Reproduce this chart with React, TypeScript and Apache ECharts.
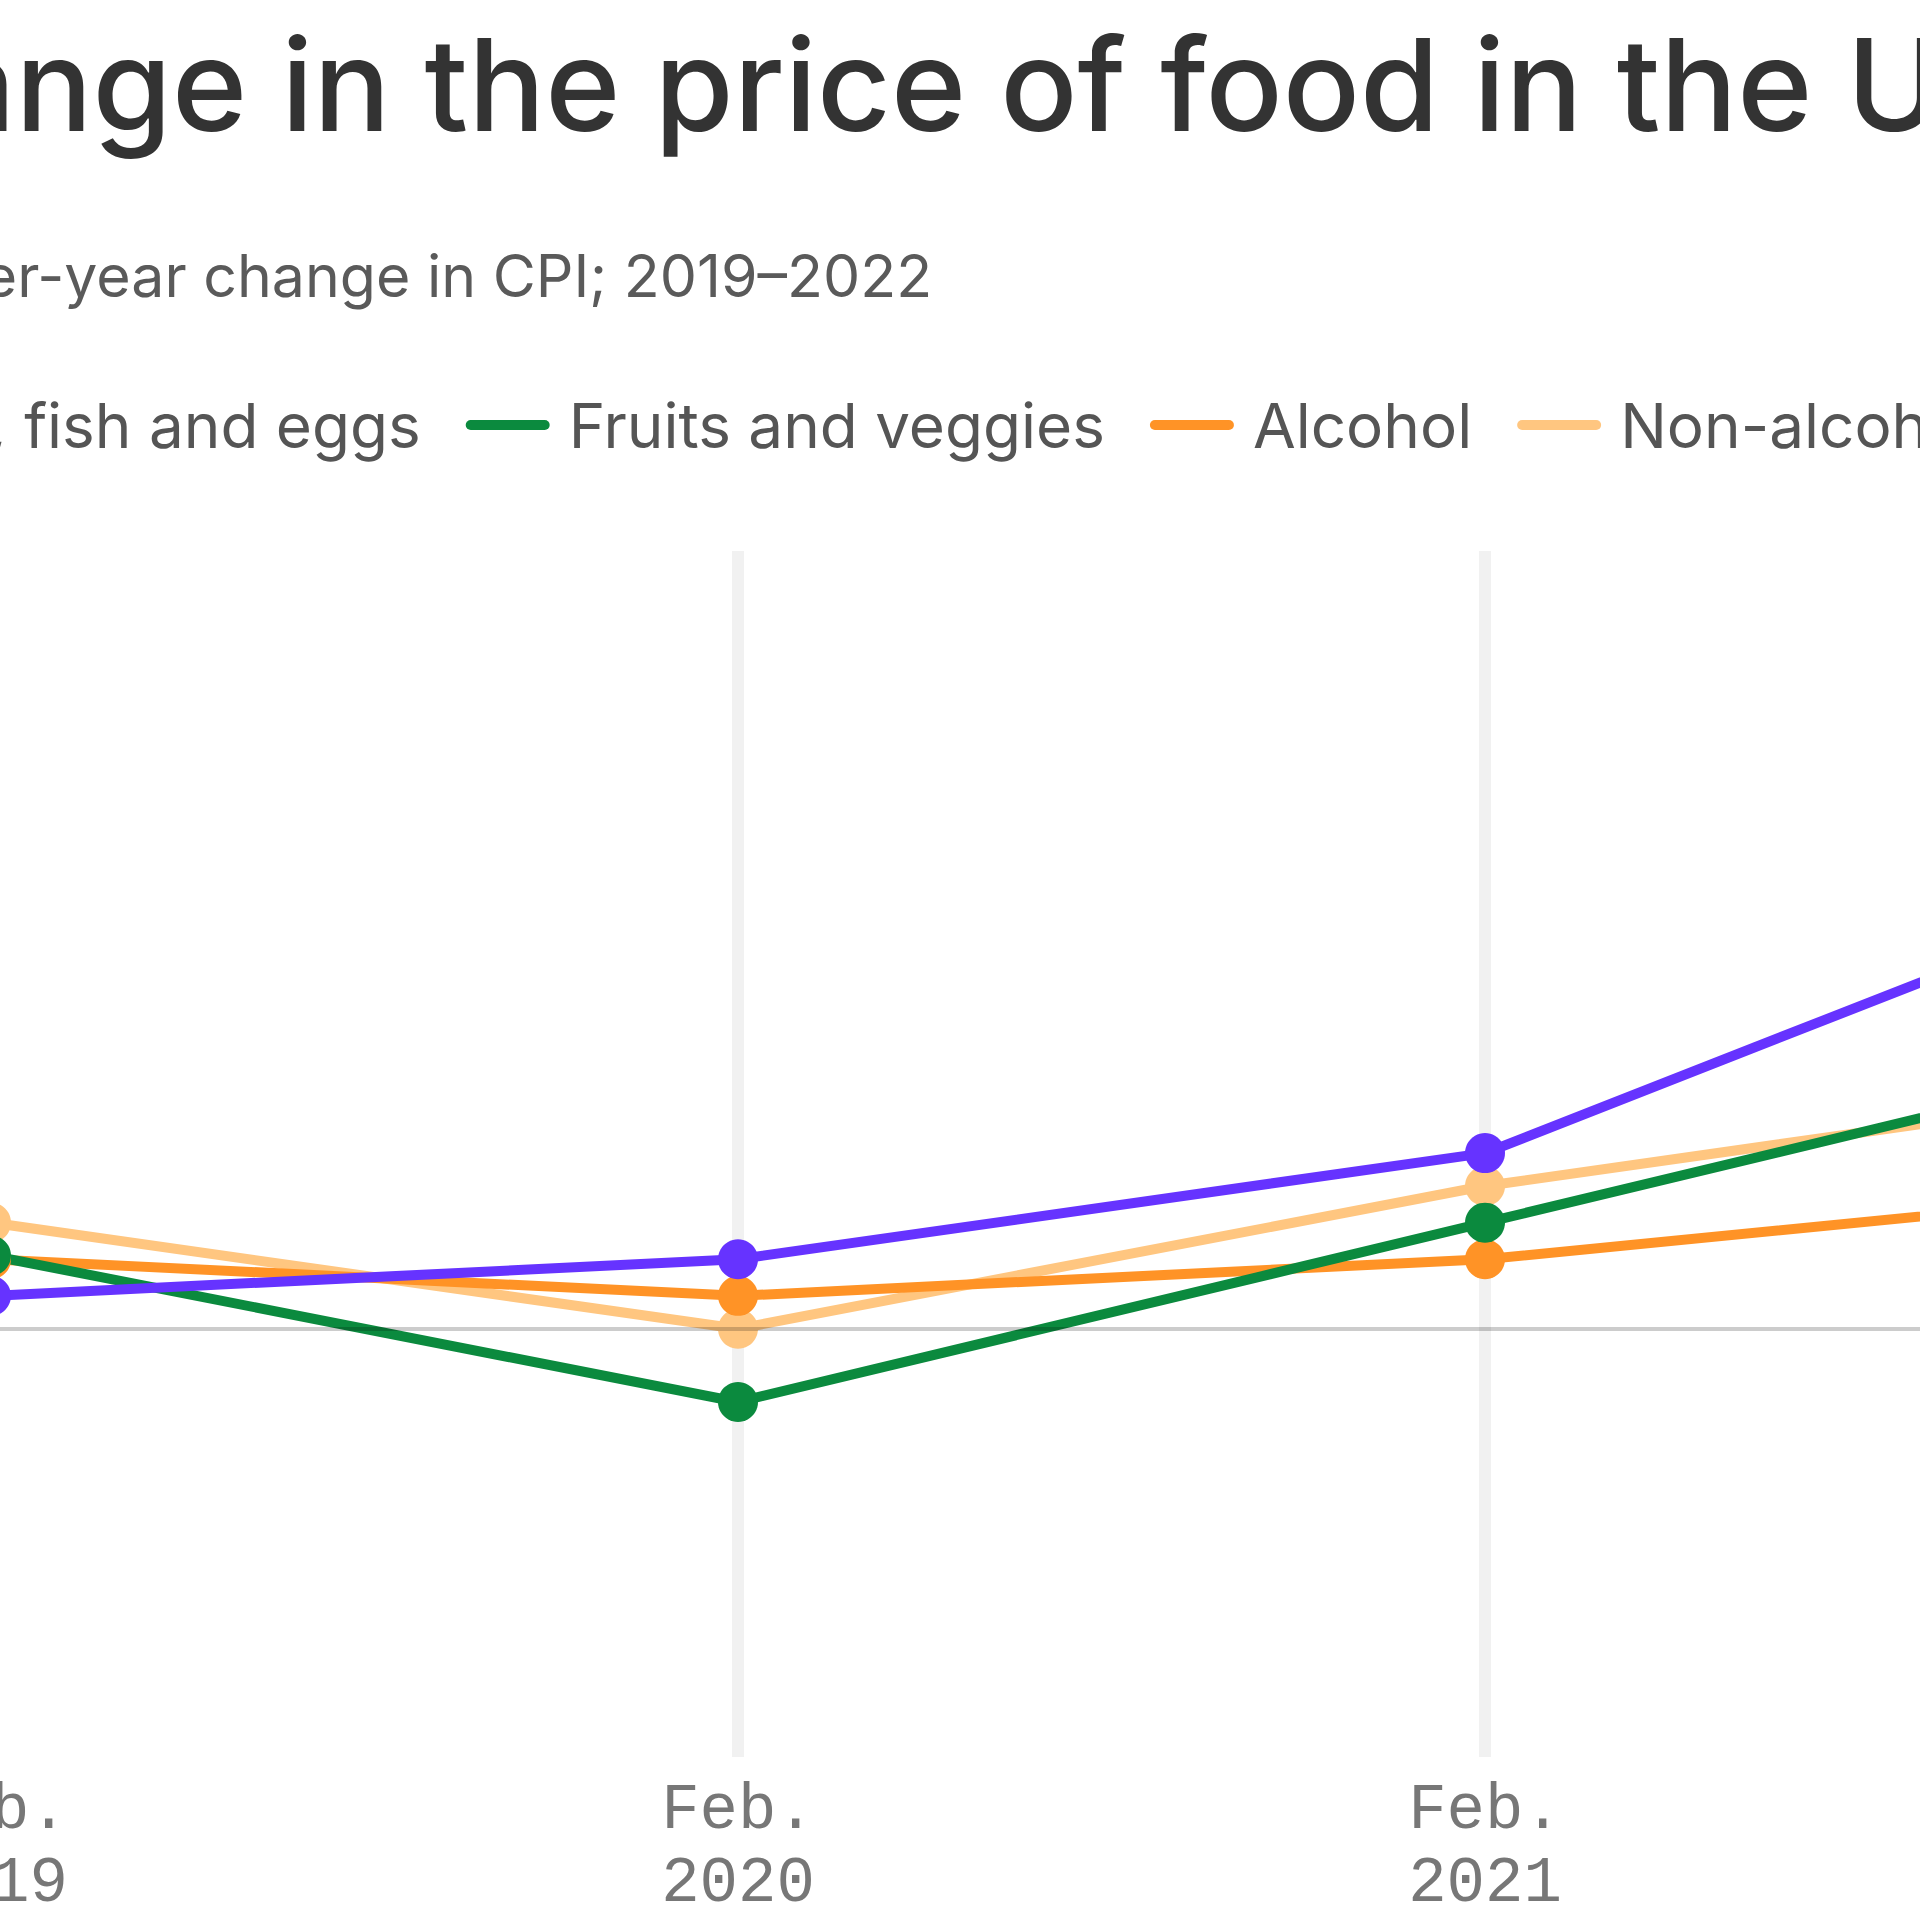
import React, { useEffect, useRef } from "react";
import * as echarts from "echarts";

const categories = ["Feb. 2019", "Feb. 2020", "Feb. 2021", "Feb. 2022"];
const meatFish = [0.9, 1.9, 4.8, 12.8];
const fruitsVeggies = [2.0, -2.0, 2.9, 7.8];
const alcohol = [1.9, 0.9, 1.9, 3.9];
const nonAlcoholic = [2.9, 0.0, 3.9, 6.8];
const seriesNames = ["Meat, fish and eggs", "Fruits and veggies", "Alcohol", "Non-alcoholic beverages"];
const seriesColors = ["#6633ff", "#0b8a3e", "#ff9326", "#ffc680"];

const OFF = 600;
const W = 3320;
const H = 1920;

export default function App() {
  const ref = useRef<HTMLDivElement>(null);
  useEffect(() => {
    if (!ref.current) return;
    const chart = echarts.init(ref.current, undefined, { renderer: "svg" });
    const values = [meatFish, fruitsVeggies, alcohol, nonAlcoholic];
    const mk = (i: number, extra: any = {}) => ({
      name: seriesNames[i],
      type: "line",
      data: values[i],
      symbol: "circle",
      symbolSize: 40,
      lineStyle: { width: 10, color: seriesColors[i] },
      itemStyle: { color: seriesColors[i] },
      emphasis: { disabled: true },
      ...extra,
    });
    const pill = "path://M5,0 L79,0 A5,5 0 0 1 79,10 L5,10 A5,5 0 0 1 5,0 Z";
    chart.setOption({
      animation: false,
      backgroundColor: "#ffffff",
      textStyle: { fontFamily: "Inter" },
      graphic: [
        {
          type: "text",
          x: OFF - 228,
          y: 84,
          style: {
            text: "Change in the price of food in the U.S.",
            font: "500 128px Inter",
            fill: "#333333",
            verticalAlign: "middle",
          },
        },
        {
          type: "text",
          x: OFF - 234,
          y: 275,
          style: {
            text: "Year-over-year change in CPI; 2019–2022",
            font: "400 59px Inter",
            fill: "#5a5a5a",
            verticalAlign: "middle",
          },
        },
      ],
      legend: {
        left: OFF - 267,
        top: 389,
        itemWidth: 84,
        itemHeight: 10,
        itemGap: 45,
        icon: pill,
        data: seriesNames,
        textStyle: { fontFamily: "Inter", fontSize: 62, color: "#555555", padding: [0, 0, 0, 14] },
        selectedMode: false,
      },
      grid: { left: 591, right: W - (2232 + OFF), top: 551, bottom: H - 1760 },
      xAxis: {
        type: "category",
        boundaryGap: false,
        data: categories,
        z: 3,
        axisLine: { show: false },
        axisTick: { show: false },
        splitLine: { show: true, lineStyle: { color: "rgba(0,0,0,0.055)", width: 12 } },
        axisLabel: {
          margin: 17,
          fontFamily: "Liberation Mono",
          fontSize: 64,
          lineHeight: 73,
          color: "#777777",
          formatter: (v: string) => v.replace(" ", "\n"),
        },
      },
      yAxis: { type: "value", show: false, min: -11.7, max: 21.25 },
      series: [
        mk(3),
        mk(2),
        mk(1),
        mk(0, {
          markLine: {
            silent: true,
            symbol: "none",
            label: { show: false },
            lineStyle: { color: "rgba(0,0,0,0.2)", width: 4, type: "solid" },
            data: [{ yAxis: 0 }],
          },
        }),
      ],
    });
    return () => chart.dispose();
  }, []);
  return (
    <div style={{ position: "fixed", left: 0, top: 0, width: 1920, height: 1920, overflow: "hidden", background: "#fff" }}>
      <div ref={ref} style={{ position: "absolute", left: -OFF, top: 0, width: W, height: H }} />
    </div>
  );
}
